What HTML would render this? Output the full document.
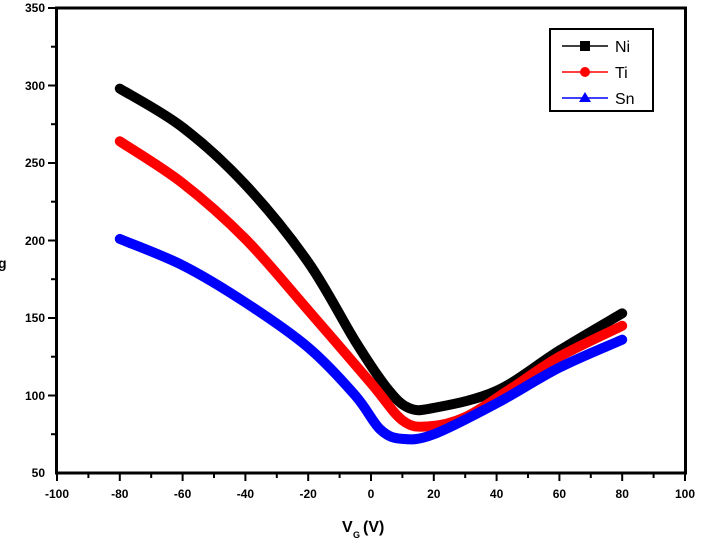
<!DOCTYPE html>
<html><head><style>body{margin:0;background:#fff}svg{display:block}text{font-family:"Liberation Sans",sans-serif}</style></head><body>
<svg width="709" height="552" viewBox="0 0 709 552">
<g fill="none" stroke-width="10" stroke-linejoin="round" stroke-linecap="round">
<path id="ni" stroke="#000"/>
<path id="ti" stroke="#f00"/>
<path id="sn" stroke="#00f"/>
</g>
<rect x="56.5" y="8" width="629" height="465" fill="none" stroke="#000" stroke-width="3"/>
<g stroke="#000" stroke-width="2">
<line x1="48" y1="8" x2="56" y2="8"/><line x1="48" y1="85.5" x2="56" y2="85.5"/><line x1="48" y1="163" x2="56" y2="163"/><line x1="48" y1="240.5" x2="56" y2="240.5"/><line x1="48" y1="318" x2="56" y2="318"/><line x1="48" y1="395.5" x2="56" y2="395.5"/>
<line x1="51" y1="46.7" x2="56" y2="46.7"/><line x1="51" y1="124.2" x2="56" y2="124.2"/><line x1="51" y1="201.7" x2="56" y2="201.7"/><line x1="51" y1="279.2" x2="56" y2="279.2"/><line x1="51" y1="356.7" x2="56" y2="356.7"/><line x1="51" y1="434.2" x2="56" y2="434.2"/>
<line x1="57" y1="473" x2="57" y2="481"/><line x1="119.8" y1="473" x2="119.8" y2="481"/><line x1="182.6" y1="473" x2="182.6" y2="481"/><line x1="245.4" y1="473" x2="245.4" y2="481"/><line x1="308.2" y1="473" x2="308.2" y2="481"/><line x1="371" y1="473" x2="371" y2="481"/><line x1="433.8" y1="473" x2="433.8" y2="481"/><line x1="496.6" y1="473" x2="496.6" y2="481"/><line x1="559.4" y1="473" x2="559.4" y2="481"/><line x1="622.2" y1="473" x2="622.2" y2="481"/><line x1="685" y1="473" x2="685" y2="481"/>
<line x1="88.4" y1="473" x2="88.4" y2="478"/><line x1="151.2" y1="473" x2="151.2" y2="478"/><line x1="214" y1="473" x2="214" y2="478"/><line x1="276.8" y1="473" x2="276.8" y2="478"/><line x1="339.6" y1="473" x2="339.6" y2="478"/><line x1="402.4" y1="473" x2="402.4" y2="478"/><line x1="465.2" y1="473" x2="465.2" y2="478"/><line x1="528" y1="473" x2="528" y2="478"/><line x1="590.8" y1="473" x2="590.8" y2="478"/><line x1="653.6" y1="473" x2="653.6" y2="478"/>
</g>
<g font-size="12" text-anchor="end" font-weight="bold">
<text x="45" y="12">350</text><text x="45" y="90">300</text><text x="45" y="167">250</text><text x="45" y="245">200</text><text x="45" y="322">150</text><text x="45" y="400">100</text><text x="45" y="477">50</text>
</g>
<g font-size="12" text-anchor="middle" font-weight="bold">
<text x="57" y="498">-100</text><text x="119.8" y="498">-80</text><text x="182.6" y="498">-60</text><text x="245.4" y="498">-40</text><text x="308.2" y="498">-20</text><text x="371" y="498">0</text><text x="433.8" y="498">20</text><text x="496.6" y="498">40</text><text x="559.4" y="498">60</text><text x="622.2" y="498">80</text><text x="685" y="498">100</text>
</g>
<text x="342" y="532" font-size="16" font-weight="bold">V</text><text x="353" y="538" font-size="9" font-weight="bold">G</text><text x="363" y="532" font-size="16" font-weight="bold">(V)</text>
<text x="-2" y="268" font-size="14" font-weight="bold">g</text>
<rect x="550" y="29" width="103" height="82" fill="#fff" stroke="#000" stroke-width="2"/>
<line x1="562" y1="46" x2="608" y2="46" stroke="#000" stroke-width="1.5"/><rect x="580" y="41" width="10" height="10" fill="#000"/>
<line x1="562" y1="72" x2="608" y2="72" stroke="#f00" stroke-width="1.5"/><circle cx="585" cy="72" r="5" fill="#f00"/>
<line x1="562" y1="98" x2="608" y2="98" stroke="#00f" stroke-width="1.5"/><polygon points="579,102 591,102 585,92" fill="#00f"/>
<g font-size="16"><text x="615" y="52">Ni</text><text x="615" y="78">Ti</text><text x="615" y="104">Sn</text></g>
</svg>
<script>
function X(v){return 371+3.14*v}function Y(v){return 8+(350-v)*1.55}
function sm(d){var p=d.map(function(a){return[X(a[0]),Y(a[1])]});var s="M"+p[0][0]+","+p[0][1];
for(var i=0;i<p.length-1;i++){var a=p[i-1]||p[i],b=p[i],c=p[i+1],e=p[i+2]||c;
s+=" C"+(b[0]+(c[0]-a[0])/6)+","+(b[1]+(c[1]-a[1])/6)+" "+(c[0]-(e[0]-b[0])/6)+","+(c[1]-(e[1]-b[1])/6)+" "+c[0]+","+c[1];}return s}
document.getElementById("ni").setAttribute("d",sm([[-80,298],[-60,273],[-40,236],[-20,186],[-5,135],[5,105],[12,92],[20,92],[40,103],[60,129],[80,153]]));
document.getElementById("ti").setAttribute("d",sm([[-80,264],[-60,237],[-40,201],[-20,155],[0,108],[10,84],[18,80],[30,86],[45,105],[60,125],[80,145]]));
document.getElementById("sn").setAttribute("d",sm([[-80,201],[-60,184],[-40,160],[-20,131],[-5,100],[3,78],[10,72],[20,75],[40,95],[60,118],[80,136]]));
</script>
</body></html>
